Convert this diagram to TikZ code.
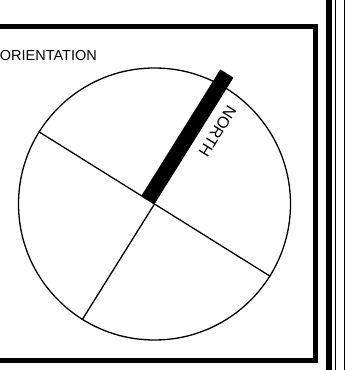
\documentclass[tikz,border=0pt]{standalone}
\usepackage{fontspec}
\setmainfont{Liberation Sans}
\usetikzlibrary{calc}
\begin{document}
\begin{tikzpicture}[x=1pt,y=1pt,
  lbl/.style={font=\fontsize{14.5}{17}\selectfont, inner sep=0pt},
  biglbl/.style={font=\fontsize{16}{19}\selectfont, inner sep=0pt},
  thin line/.style={line width=1.3pt},
  frame/.style={line width=5pt}]
\useasboundingbox (0,0) rectangle (347,370);
% outer thick frame (left side beyond the page)
\draw[frame] (-10,343.5) -- (315.5,343.5) -- (315.5,9.5) -- (-10,9.5);
% right double rule
\fill (326,0) rectangle (332,370);
\draw[line width=1pt] (335,0) -- (335,370);
\draw[line width=1pt] (344,0) -- (344,370);
% title
\node[lbl, anchor=base east] (title) at (97,309) {ORIENTATION};
% compass
\node[circle, draw, thin line, minimum size=272pt, inner sep=0pt] (compass) at (154.5,166) {};
\draw[thin line] (compass.148) -- (compass.-32);
\draw[thin line] (compass.center) -- (compass.238);
\begin{scope}[shift={(compass.center)}, rotate=58]
  \fill (0,0) rectangle (149,15.5);
\end{scope}
\node[biglbl, rotate=-122] (north) at ($(compass.center)+(58:95)+(-32:15)$) {NORTH};
\end{tikzpicture}
\end{document}
